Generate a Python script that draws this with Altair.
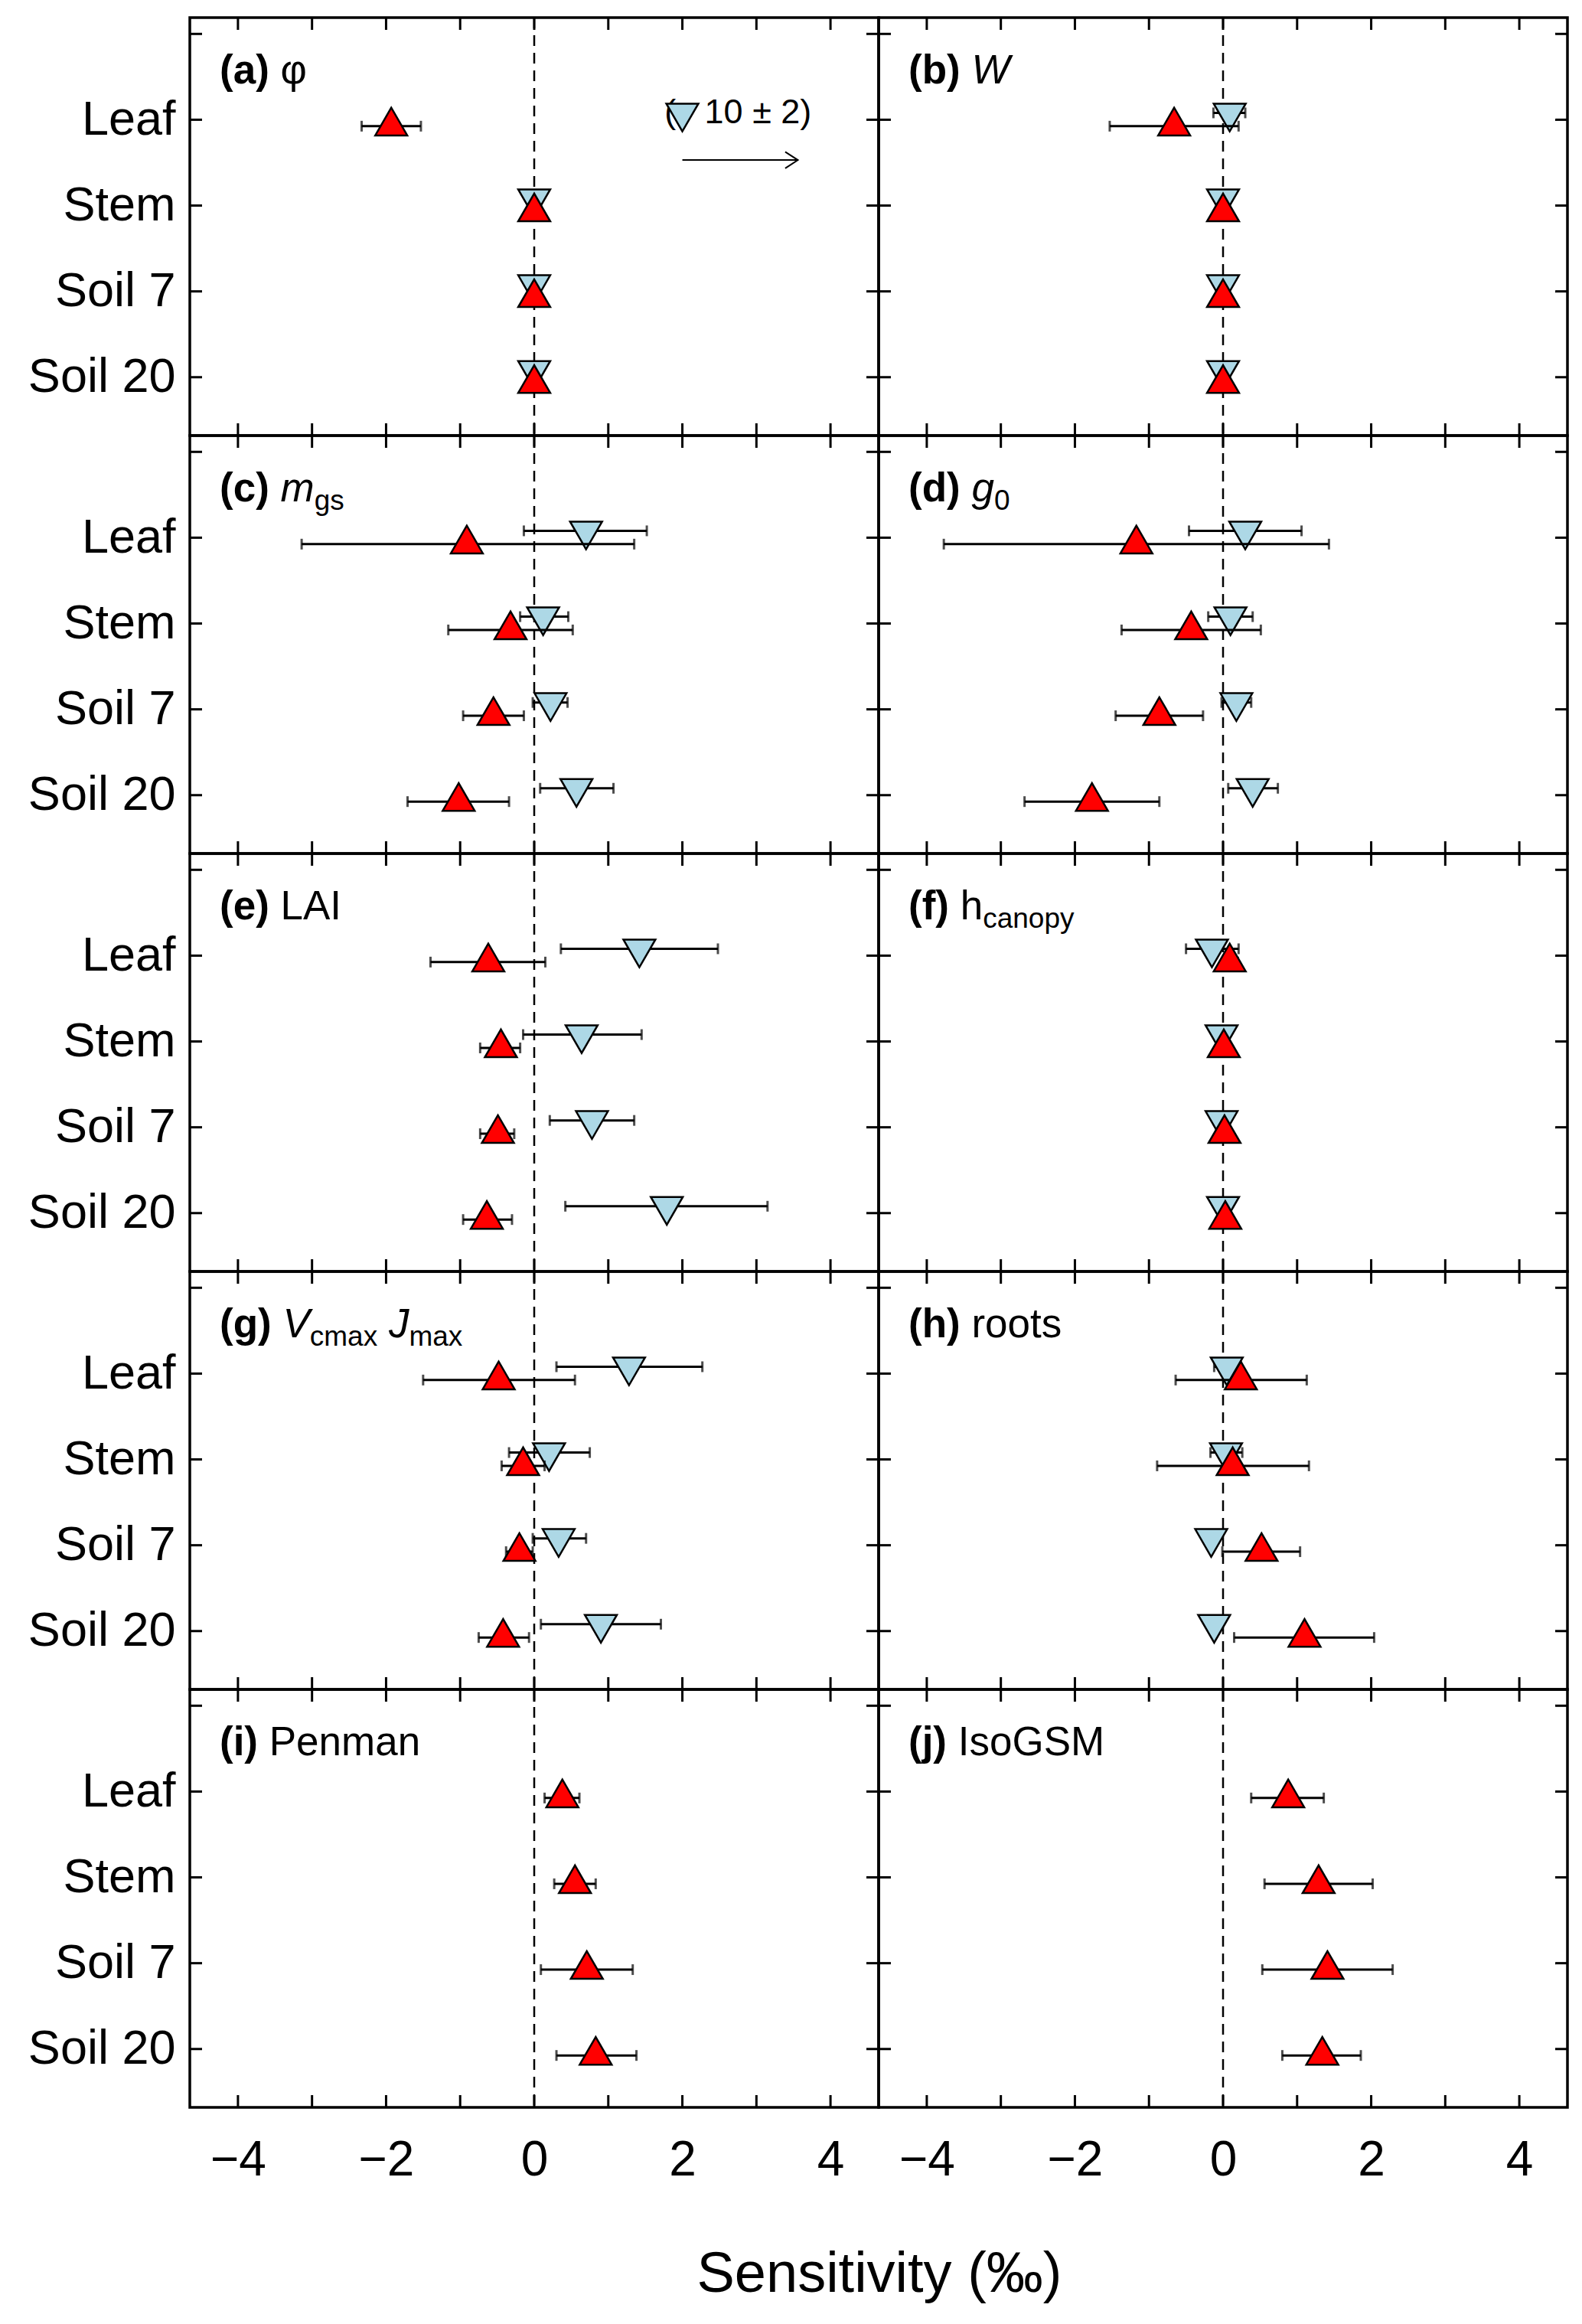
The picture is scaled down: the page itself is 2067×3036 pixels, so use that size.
import altair as alt
import pandas as pd

FONT = "Liberation Sans"
RED = "#FF0000"
BLUE = "#ADD8E6"

categories = ["Leaf", "Stem", "Soil 7", "Soil 20"]
x_tick_values = [-4, -3, -2, -1, 0, 1, 2, 3, 4]
x_label_values = [-4, -2, 0, 2, 4]
y_tick_values = [1, 2, 3, 4, 5]

# ---- data (per panel, order = categories) ----
red_val = {
    "a": [-1.93, 0.0, 0.0, 0.0],
    "b": [-0.66, 0.0, 0.0, 0.0],
    "c": [-0.91, -0.32, -0.55, -1.02],
    "d": [-1.17, -0.43, -0.86, -1.77],
    "e": [-0.62, -0.45, -0.49, -0.64],
    "f": [0.09, 0.01, 0.02, 0.03],
    "g": [-0.48, -0.15, -0.20, -0.42],
    "h": [0.24, 0.13, 0.52, 1.10],
    "i": [0.38, 0.55, 0.71, 0.83],
    "j": [0.88, 1.29, 1.41, 1.34],
}
red_lo = {
    "a": [-2.33, -0.02, -0.02, -0.02],
    "b": [-1.53, -0.02, -0.02, -0.02],
    "c": [-3.14, -1.16, -0.96, -1.71],
    "d": [-3.77, -1.37, -1.45, -2.68],
    "e": [-1.40, -0.73, -0.73, -0.96],
    "f": [0.00, -0.01, 0.00, 0.01],
    "g": [-1.50, -0.44, -0.38, -0.75],
    "h": [-0.64, -0.89, -0.01, 0.15],
    "i": [0.14, 0.27, 0.09, 0.30],
    "j": [0.38, 0.56, 0.53, 0.80],
}
red_hi = {
    "a": [-1.53, 0.02, 0.02, 0.02],
    "b": [0.21, 0.02, 0.02, 0.02],
    "c": [1.35, 0.52, -0.14, -0.34],
    "d": [1.43, 0.51, -0.27, -0.86],
    "e": [0.15, -0.19, -0.27, -0.30],
    "f": [0.20, 0.03, 0.04, 0.05],
    "g": [0.55, 0.14, -0.02, -0.07],
    "h": [1.13, 1.16, 1.04, 2.04],
    "i": [0.61, 0.83, 1.33, 1.38],
    "j": [1.36, 2.02, 2.29, 1.86],
}
blue_val = {
    "a": [None, 0.0, 0.0, 0.0],
    "b": [0.09, 0.0, 0.0, 0.0],
    "c": [0.70, 0.12, 0.22, 0.57],
    "d": [0.30, 0.10, 0.18, 0.40],
    "e": [1.42, 0.64, 0.78, 1.79],
    "f": [-0.15, -0.02, -0.02, 0.0],
    "g": [1.28, 0.20, 0.33, 0.90],
    "h": [0.05, 0.04, -0.16, -0.12],
}
blue_lo = {
    "a": [None, -0.02, -0.02, -0.02],
    "b": [-0.13, -0.02, -0.02, -0.02],
    "c": [-0.14, -0.19, -0.02, 0.08],
    "d": [-0.46, -0.20, -0.02, 0.07],
    "e": [0.36, -0.15, 0.21, 0.42],
    "f": [-0.50, -0.04, -0.04, -0.02],
    "g": [0.30, -0.34, -0.02, 0.09],
    "h": [-0.12, -0.17, -0.20, -0.14],
}
blue_hi = {
    "a": [None, 0.02, 0.02, 0.02],
    "b": [0.30, 0.02, 0.02, 0.02],
    "c": [1.52, 0.46, 0.45, 1.07],
    "d": [1.06, 0.40, 0.38, 0.74],
    "e": [2.48, 1.45, 1.35, 3.15],
    "f": [0.21, 0.00, 0.00, 0.02],
    "g": [2.27, 0.75, 0.70, 1.71],
    "h": [0.24, 0.26, -0.10, -0.08],
}
# off-scale value of panel (a), Leaf, blue series
a_blue_leaf_mean = 10
a_blue_leaf_err = 2

# panel titles: (text, weight, style, subscript)
panel_titles = {
    "a": [("(a) ", "bold", "normal", False), ("φ", "normal", "normal", False)],
    "b": [("(b) ", "bold", "normal", False), ("W", "normal", "italic", False)],
    "c": [("(c) ", "bold", "normal", False), ("m", "normal", "italic", False), ("gs", "normal", "normal", True)],
    "d": [("(d) ", "bold", "normal", False), ("g", "normal", "italic", False), ("0", "normal", "normal", True)],
    "e": [("(e) ", "bold", "normal", False), ("LAI", "normal", "normal", False)],
    "f": [("(f) ", "bold", "normal", False), ("h", "normal", "normal", False), ("canopy", "normal", "normal", True)],
    "g": [("(g) ", "bold", "normal", False), ("V", "normal", "italic", False), ("cmax", "normal", "normal", True),
          (" ", "normal", "normal", False), ("J", "normal", "italic", False), ("max", "normal", "normal", True)],
    "h": [("(h) ", "bold", "normal", False), ("roots", "normal", "normal", False)],
    "i": [("(i) ", "bold", "normal", False), ("Penman", "normal", "normal", False)],
    "j": [("(j) ", "bold", "normal", False), ("IsoGSM", "normal", "normal", False)],
}
panel_order = ["a", "b", "c", "d", "e", "f", "g", "h", "i", "j"]

# ---- layout / style ----
W, H = 900, 546
XDOM = [-4.65, 4.65]
YDOM = [0.32, 5.19]
TICK = 16
TITLE_FS = 53
SUB_FS = 37
RED_OFF = -0.075
BLUE_OFF = 0.08
MSIZE = 1750
TRI_UP = "M0,-1.155L-1,0.577L1,0.577Z"
TRI_DOWN = "M0,1.155L-1,-0.577L1,-0.577Z"
ARROW_HEAD = "M-1,-0.65L0,0L-1,0.65"

REG = {' ': .278, '(': .333, ')': .333, 'a': .556, 'b': .556, 'c': .5, 'd': .556, 'e': .556, 'f': .278,
       'g': .556, 'h': .556, 'i': .222, 'j': .222, 'm': .833, 'n': .556, 'o': .556, 'p': .556, 'r': .333,
       's': .5, 't': .278, 'x': .5, 'y': .5, 'A': .667, 'G': .778, 'I': .278, 'J': .5, 'L': .556, 'M': .833,
       'P': .667, 'S': .667, 'V': .667, 'W': .944, '0': .556, 'φ': .65}
BOLD = {' ': .278, '(': .333, ')': .333, 'a': .556, 'b': .611, 'c': .556, 'd': .611, 'e': .556, 'f': .333,
        'g': .611, 'h': .611, 'i': .278, 'j': .278}


def text_width(t, weight, fs):
    tab = BOLD if weight == "bold" else REG
    return sum(tab.get(ch, REG.get(ch, .556)) for ch in t) * fs


xscale = alt.Scale(domain=XDOM, nice=False, zero=False)
yscale = alt.Scale(domain=YDOM, nice=False, zero=False)

ylabel_expr = "[" + ",".join(["''"] + ["'" + c + "'" for c in reversed(categories)]) + "][datum.value]"


def make_panel(key, left, bottom):
    if bottom:
        xaxis = alt.Axis(values=x_label_values, ticks=False, domain=False, grid=False, title=None,
                         labelFont=FONT, labelFontSize=64, labelColor="black", labelPadding=37)
    else:
        xaxis = None
    if left:
        yaxis = alt.Axis(values=[1, 2, 3, 4], labelExpr=ylabel_expr, ticks=False, domain=False, grid=False,
                         title=None, labelFont=FONT, labelFontSize=63, labelColor="black", labelPadding=19,
                         labelLimit=500)
    else:
        yaxis = None

    X = lambda f: alt.X(f, scale=xscale, axis=xaxis)
    Y = lambda f: alt.Y(f, scale=yscale, axis=yaxis)

    layers = []
    # ticks (inward) on all four sides
    xt = pd.DataFrame({"v": x_tick_values})
    yt = pd.DataFrame({"v": y_tick_values})
    layers.append(alt.Chart(xt).mark_rule(color="black", strokeWidth=3).encode(
        x=X("v:Q"), y=alt.value(0), y2=alt.value(TICK)))
    layers.append(alt.Chart(xt).mark_rule(color="black", strokeWidth=3).encode(
        x=X("v:Q"), y=alt.value(H - TICK), y2=alt.value(H)))
    layers.append(alt.Chart(yt).mark_rule(color="black", strokeWidth=3).encode(
        y=Y("v:Q"), x=alt.value(0), x2=alt.value(TICK)))
    layers.append(alt.Chart(yt).mark_rule(color="black", strokeWidth=3).encode(
        y=Y("v:Q"), x=alt.value(W - TICK), x2=alt.value(W)))
    # zero line
    layers.append(alt.Chart(pd.DataFrame({"v": [0]})).mark_rule(
        color="black", strokeWidth=2.5, strokeDash=[14, 9]).encode(
        x=X("v:Q"), y=alt.value(0), y2=alt.value(H)))

    def series_layers(vals, los, his, off, shape, color):
        rows = []
        for i, c in enumerate(categories):
            if vals[i] is None:
                continue
            rows.append({"cat": c, "pos": len(categories) - i + off, "val": vals[i], "lo": los[i], "hi": his[i]})
        df = pd.DataFrame(rows)
        out = [
            alt.Chart(df).mark_rule(color="black", strokeWidth=3).encode(x=X("lo:Q"), x2="hi:Q", y=Y("pos:Q")),
            alt.Chart(df).mark_tick(color="black", orient="vertical", size=14, thickness=3).encode(
                x=X("lo:Q"), y=Y("pos:Q")),
            alt.Chart(df).mark_tick(color="black", orient="vertical", size=14, thickness=3).encode(
                x=X("hi:Q"), y=Y("pos:Q")),
            alt.Chart(df).mark_point(shape=shape, filled=True, color=color, stroke="black", strokeWidth=2.5,
                                     size=MSIZE, opacity=1).encode(x=X("val:Q"), y=Y("pos:Q")),
        ]
        return out

    if key in blue_val:
        layers += series_layers(blue_val[key], blue_lo[key], blue_hi[key], BLUE_OFF, TRI_DOWN, BLUE)
    layers += series_layers(red_val[key], red_lo[key], red_hi[key], RED_OFF, TRI_UP, RED)

    if key == "a":
        ann_y = len(categories) + BLUE_OFF
        layers.append(alt.Chart(pd.DataFrame({"x": [1.76], "y": [ann_y], "t": ["("]})).mark_text(
            font=FONT, fontSize=45, align="left", baseline="middle", color="black").encode(
            x=X("x:Q"), y=Y("y:Q"), text="t:N"))
        layers.append(alt.Chart(pd.DataFrame({"x": [2.0], "y": [ann_y]})).mark_point(
            shape=TRI_DOWN, filled=True, color=BLUE, stroke="black", strokeWidth=2.5, size=MSIZE,
            opacity=1).encode(x=X("x:Q"), y=Y("y:Q")))
        layers.append(alt.Chart(pd.DataFrame({"x": [2.30], "y": [ann_y],
                                              "t": [f"{a_blue_leaf_mean} ± {a_blue_leaf_err})"]})).mark_text(
            font=FONT, fontSize=45, align="left", baseline="middle", color="black").encode(
            x=X("x:Q"), y=Y("y:Q"), text="t:N"))
        arr = pd.DataFrame({"x": [2.0], "x2": [3.56], "y": [3.53]})
        layers.append(alt.Chart(arr).mark_rule(color="black", strokeWidth=2).encode(
            x=X("x:Q"), x2="x2:Q", y=Y("y:Q")))
        layers.append(alt.Chart(arr).mark_point(shape=ARROW_HEAD, filled=False, color="black",
                                                strokeWidth=2, size=1100, opacity=1).encode(
            x=X("x2:Q"), y=Y("y:Q")))

    # panel title (with sub-scripts)
    xpos = 39
    for text, weight, style, sub in panel_titles[key]:
        fs = SUB_FS if sub else TITLE_FS
        if text.strip():
            layers.append(alt.Chart(pd.DataFrame({"t": [text.rstrip()]})).mark_text(
                font=FONT, fontSize=fs, fontWeight=weight, fontStyle=style, align="left",
                baseline="alphabetic", color="black").encode(
                x=alt.value(xpos), y=alt.value(86 + (11 if sub else 0)), text="t:N"))
        xpos += text_width(text, weight, fs)

    return alt.layer(*layers).properties(width=W, height=H)


panels = []
for idx, k in enumerate(panel_order):
    panels.append(make_panel(k, idx % 2 == 0, idx >= 8))

chart = alt.concat(*panels, columns=2, spacing=0, bounds="flush").properties(
    padding={"left": 26, "top": 11, "right": 5, "bottom": 5},
    background="white",
    title=alt.TitleParams(text="Sensitivity (‰)", orient="bottom", anchor="middle", font=FONT, fontSize=74,
                          fontWeight="normal", color="black", offset=80, dx=106),
).configure_view(stroke="black", strokeWidth=3.5)

chart.save("out.html", embed_options={"renderer": "svg", "actions": False})
